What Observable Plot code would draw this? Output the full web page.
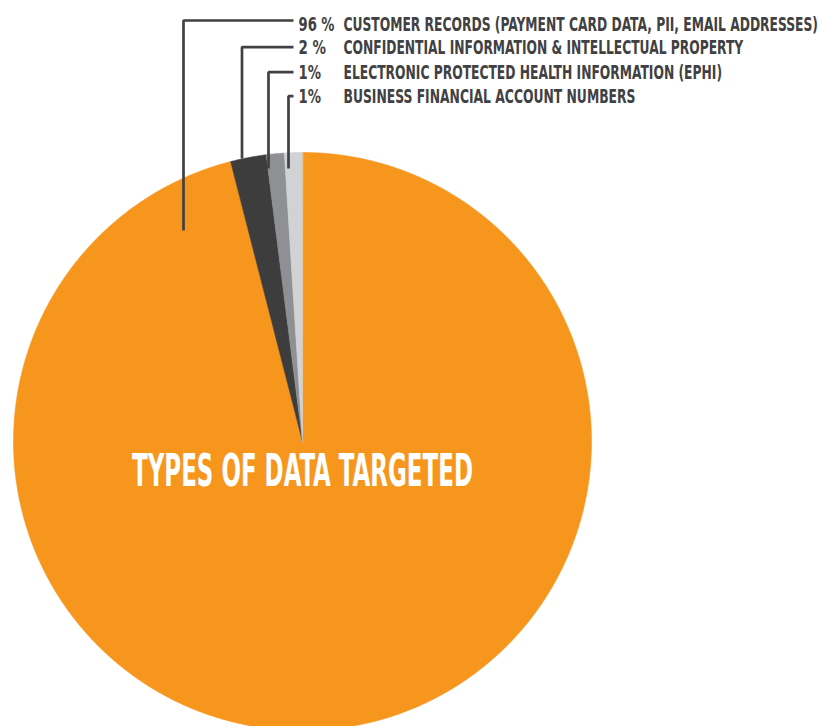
<!DOCTYPE html>
<html>
<head>
<meta charset="utf-8">
<script src="https://cdn.jsdelivr.net/npm/d3@7"></script>
<script src="https://cdn.jsdelivr.net/npm/@observablehq/plot@0.6"></script>
<style>
  html, body { margin: 0; padding: 0; background: #ffffff; }
  #chart svg { display: block; }
</style>
</head>
<body>
<div id="chart"></div>
<script>
// ---- data ----
const categories = [
  "CUSTOMER RECORDS (PAYMENT CARD DATA, PII, EMAIL ADDRESSES)",
  "CONFIDENTIAL INFORMATION & INTELLECTUAL PROPERTY",
  "ELECTRONIC PROTECTED HEALTH INFORMATION (EPHI)",
  "BUSINESS FINANCIAL ACCOUNT NUMBERS"
];
const values = [96, 2, 1, 1];
const percentLabels = ["96 %", "2 %", "1%", "1%"];
const chartTitle = "TYPES OF DATA TARGETED";

// ---- styles / layout ----
const sliceColors = ["#F7961D", "#3D3D3D", "#8F9093", "#D1D2D4"];
const ink = "#414042";
const fontFamily = "'DejaVu Sans Condensed', 'Liberation Sans Narrow', 'Roboto', sans-serif";
const W = 827, H = 726;
const CX = 302, CY = 441, R = 289;
const rowLineY = [20, 46.7, 71.7, 95.7];
const rowBaseline = [30, 53.5, 78, 102];
const elbowX = [183, 241.5, 268, 288];
const leaderEndY = [230, 158, 168, 168];
const leaderStartX = 293;
const pctX = 298, labelX = 343;
const pctWidths = [36, 27.5, 22.5, 22.5];
const labelWidths = [475, 400, 379, 292];
const titleBaseline = 485, titleWidth = 341, titleSize = 44.5;

// ---- pie geometry from values ----
const arcs = d3.pie().sort(null).value(d => d)(values);
const slicePts = [];
arcs.forEach((a, i) => {
  const cat = categories[i];
  slicePts.push({cat, x: CX, y: CY});
  const n = Math.max(2, Math.ceil((a.endAngle - a.startAngle) / (Math.PI / 720)));
  for (let k = 0; k <= n; k++) {
    const t = a.startAngle + (a.endAngle - a.startAngle) * k / n;
    slicePts.push({cat, x: CX + R * Math.sin(t), y: CY - R * Math.cos(t)});
  }
});

const leaderPts = [];
categories.forEach((c, i) => {
  leaderPts.push({i, x: leaderStartX, y: rowLineY[i]});
  leaderPts.push({i, x: elbowX[i], y: rowLineY[i]});
  leaderPts.push({i, x: elbowX[i], y: leaderEndY[i]});
});

const rows = categories.map((c, i) => ({c, p: percentLabels[i], y: rowBaseline[i]}));

const svg = Plot.plot({
  width: W,
  height: H,
  margin: 0,
  x: {type: "linear", domain: [0, W], range: [0, W], axis: null},
  y: {type: "linear", domain: [0, H], range: [0, H], axis: null},
  color: {domain: categories, range: sliceColors},
  style: {background: "#ffffff", fontFamily},
  marks: [
    Plot.line(slicePts, {x: "x", y: "y", z: "cat", fill: "cat", stroke: "cat", strokeWidth: 0.6, curve: "linear-closed"}),
    Plot.line(leaderPts, {x: "x", y: "y", z: "i", stroke: ink, strokeWidth: 2.7, strokeLinejoin: "miter", strokeLinecap: "butt"}),
    Plot.text(rows, {x: () => pctX, y: "y", text: "p", textAnchor: "start", lineAnchor: "bottom", fontSize: 19.5, fontWeight: "bold", fill: ink, fontFamily}),
    Plot.text(rows, {x: () => labelX, y: "y", text: "c", textAnchor: "start", lineAnchor: "bottom", fontSize: 19.5, fontWeight: "bold", fill: ink, fontFamily}),
    Plot.text([chartTitle], {x: () => CX, y: () => titleBaseline, text: d => d, textAnchor: "middle", lineAnchor: "bottom", fontSize: titleSize, fontWeight: "bold", fill: "#ffffff", fontFamily})
  ]
});

document.getElementById("chart").appendChild(svg);

// condense text horizontally (narrow display face) by scaling each label about its anchor
const groups = svg.querySelectorAll('g[aria-label="text"]');
const widthSets = [pctWidths, labelWidths, [titleWidth]];
groups.forEach((g, gi) => {
  g.querySelectorAll("text").forEach((t, ti) => {
    const natural = t.getComputedTextLength();
    const sx = natural > 0 ? widthSets[gi][ti] / natural : 1;
    let tr = t.getAttribute("transform");
    if (!tr) {
      const x = +t.getAttribute("x") || 0, y = +t.getAttribute("y") || 0;
      t.removeAttribute("x"); t.removeAttribute("y");
      tr = `translate(${x},${y})`;
    }
    t.setAttribute("transform", `${tr} scale(${sx},1)`);
  });
});
</script>
</body>
</html>
